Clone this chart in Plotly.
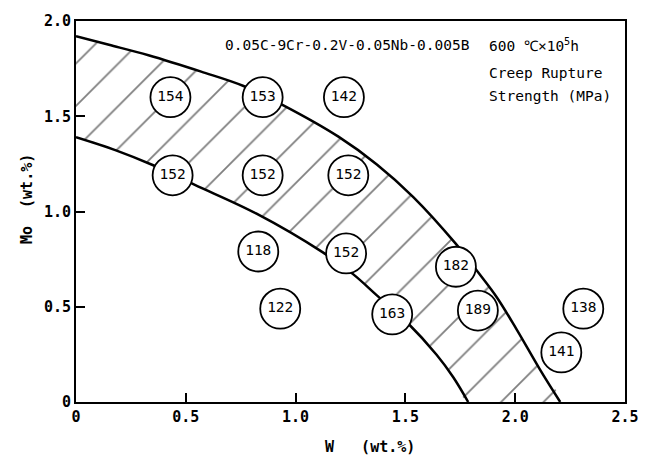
import plotly.graph_objects as go

# ---- data ----
outer_w = [0.0, 0.15, 0.33, 0.57, 0.76, 0.94, 1.195, 1.37, 1.536, 1.73, 1.825, 1.916, 2.007, 2.113, 2.205]
outer_mo = [1.92, 1.875, 1.82, 1.734, 1.66, 1.56, 1.393, 1.247, 1.076, 0.83, 0.69, 0.55, 0.38, 0.17, 0.0]
inner_w = [0.0, 0.182, 0.349, 0.539, 0.82, 1.126, 1.263, 1.37, 1.506, 1.642, 1.718, 1.786]
inner_mo = [1.39, 1.321, 1.244, 1.141, 0.99, 0.784, 0.67, 0.56, 0.42, 0.248, 0.13, 0.0]

pt_w = [0.43, 0.85, 1.22, 0.44, 0.85, 1.24, 0.83, 0.93, 1.23, 1.73, 1.44, 1.83, 2.31, 2.21]
pt_mo = [1.60, 1.60, 1.60, 1.19, 1.19, 1.19, 0.79, 0.49, 0.78, 0.71, 0.46, 0.48, 0.49, 0.26]
pt_strength = [154, 153, 142, 152, 152, 152, 118, 122, 152, 182, 163, 189, 138, 141]

x_ticks = [0, 0.5, 1.0, 1.5, 2.0, 2.5]
x_ticktext = ["0", "0.5", "1.0", "1.5", "2.0", "2.5"]
y_ticks = [0, 0.5, 1.0, 1.5, 2.0]
y_ticktext = ["0", "0.5", "1.0", "1.5", "2.0"]

MONO = "DejaVu Sans Mono, Liberation Mono, monospace"

fig = go.Figure()

# hatched band
fig.add_trace(go.Scatter(
    x=outer_w + inner_w[::-1], y=outer_mo + inner_mo[::-1],
    mode="lines", line=dict(width=0, shape="spline"),
    fill="toself", fillcolor="white",
    fillpattern=dict(shape="/", size=30, solidity=0.06, fgcolor="black", bgcolor="white"),
    hoverinfo="skip", showlegend=False,
))
# boundary curves
fig.add_trace(go.Scatter(x=outer_w, y=outer_mo, mode="lines",
                         line=dict(color="black", width=2.5, shape="spline"), showlegend=False))
fig.add_trace(go.Scatter(x=inner_w, y=inner_mo, mode="lines",
                         line=dict(color="black", width=2.5, shape="spline"), showlegend=False))
# circled values
fig.add_trace(go.Scatter(
    x=pt_w, y=pt_mo, mode="markers+text",
    text=[str(v) for v in pt_strength], textposition="middle center",
    textfont=dict(family=MONO, size=14.5, color="black"),
    marker=dict(size=40, color="white", line=dict(color="black", width=1.8)),
    showlegend=False,
))

axis_common = dict(showline=True, linecolor="black", linewidth=2, mirror=True,
                   ticks="inside", tickcolor="black", tickwidth=1.5, ticklen=9,
                   showgrid=False, zeroline=False,
                   tickfont=dict(family=MONO, size=15, color="black", weight="bold"))

fig.update_layout(
    width=655, height=463,
    margin=dict(l=76, r=30, t=14, b=61),
    paper_bgcolor="white", plot_bgcolor="white",
    xaxis=dict(range=[0, 2.5], tickvals=x_ticks, ticktext=x_ticktext, **axis_common),
    yaxis=dict(range=[0, 2.0], tickvals=y_ticks, ticktext=y_ticktext, **axis_common),
    font=dict(family=MONO, color="black"),
)

ann = [
    dict(text="0.05C-9Cr-0.2V-0.05Nb-0.005B", x=0.268, y=0.938),
    dict(text="600 \u2103\u00d710<sup>5</sup>h", x=0.749, y=0.938),
    dict(text="Creep Rupture", x=0.749, y=0.863),
    dict(text="Strength (MPa)", x=0.749, y=0.804),
]
for a in ann:
    fig.add_annotation(text=a["text"], x=a["x"], y=a["y"], xref="paper", yref="paper",
                       xanchor="left", yanchor="middle", showarrow=False,
                       font=dict(family=MONO, size=14.5, color="black"))

fig.add_annotation(text="W\u00a0\u00a0\u00a0(wt.%)", x=0.536, y=-0.118, xref="paper", yref="paper",
                   xanchor="center", yanchor="middle", showarrow=False,
                   font=dict(family=MONO, size=15, color="black", weight="bold"))
fig.add_annotation(text="Mo\u00a0\u00a0(wt.%)", x=-0.089, y=0.533, xref="paper", yref="paper",
                   xanchor="center", yanchor="middle", showarrow=False, textangle=-90,
                   font=dict(family=MONO, size=15, color="black", weight="bold"))

fig.write_html("out.html")
